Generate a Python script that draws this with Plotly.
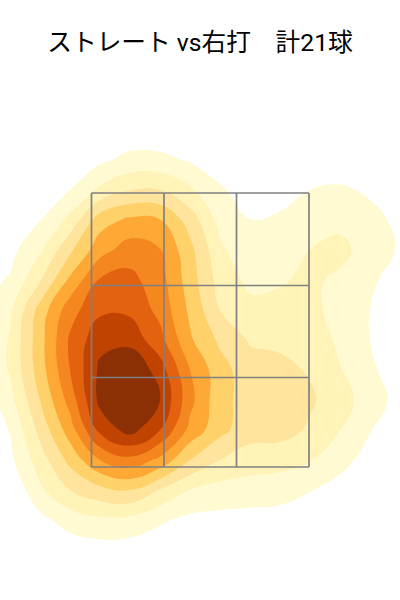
"""ストレート vs右打 のコース別密度 + ストライクゾーン9分割"""
import plotly.graph_objects as go

# 密度の等高線レベルを画像から読み取った格子 (値 k は k 番目の境界)
grid_x = [-20, 10, 40, 70, 100, 130, 160, 190, 220, 250, 280, 310, 340, 370, 400, 430]
grid_y = [130, 160, 190, 220, 250, 280, 310, 340, 370, 400, 430, 460, 490, 520, 550, 580]
density = [
    [0, 0, 0, 0, 0.1, 0.3, 0.3, 0.2, 0.1, 0, 0, 0.1, 0.1, 0.1, 0, 0],
    [0, 0, 0, 0.4, 0.8, 1.3, 1.25, 0.9, 0.4, 0.2, 0.2, 0.5, 0.55, 0.45, 0.1, 0],
    [0, 0, 0.4, 1.0, 2.2, 2.95, 3.0, 2.15, 1.15, 0.5, 0.75, 1.0, 1.1, 0.9, 0.3, 0],
    [0, 0.2, 0.95, 2.3, 4.55, 5.2, 5.05, 3.55, 1.65, 1.02, 1.1, 1.4, 1.7, 1.2, 0.85, 0],
    [0, 0.7, 1.85, 3.8, 5.6, 6.5, 6.05, 4.3, 2.2, 1.3, 1.5, 2.0, 2.3, 1.5, 0.9, 0],
    [0.6, 1.1, 2.9, 5.2, 7.1, 7.3, 6.4, 4.5, 2.6, 1.75, 1.9, 2.2, 1.8, 1.2, 0.5, 0],
    [0.9, 1.8, 4.4, 6.6, 7.8, 7.8, 6.7, 4.8, 3.0, 2.3, 2.3, 2.35, 1.55, 1.0, 0.3, 0],
    [0.8, 2.1, 4.6, 7.15, 8.7, 8.65, 7.35, 5.15, 3.8, 2.9, 2.8, 2.6, 1.8, 1.0, 0.3, 0],
    [0.85, 2.1, 4.5, 7.0, 9.2, 10.0, 8.5, 6.0, 4.4, 3.4, 3.25, 2.9, 2.05, 1.2, 0.4, 0],
    [0.3, 1.65, 4.0, 6.4, 9.3, 10.2, 9.0, 6.3, 4.3, 3.6, 3.5, 3.15, 2.4, 1.55, 0.6, 0],
    [0, 1.05, 3.3, 5.5, 8.3, 9.4, 8.0, 5.7, 4.3, 3.4, 3.4, 2.85, 2.0, 1.05, 0.3, 0],
    [0, 0.75, 2.5, 4.3, 6.0, 6.7, 5.75, 4.0, 3.0, 2.55, 2.4, 2.05, 1.35, 0.6, 0.1, 0],
    [0, 0.1, 1.8, 3.0, 3.7, 4.0, 2.95, 2.0, 1.6, 1.5, 1.4, 1.05, 0.6, 0.2, 0, 0],
    [0, 0, 0.7, 1.45, 1.8, 1.7, 1.15, 0.75, 0.7, 0.65, 0.6, 0.3, 0.1, 0, 0, 0],
    [0, 0, 0.1, 0.4, 0.55, 0.5, 0.35, 0.25, 0.2, 0.15, 0.1, 0, 0, 0, 0, 0],
    [0, 0, 0, 0, 0, 0, 0, 0, 0, 0, 0, 0, 0, 0, 0, 0],
]

# ストライクゾーンの区切り
zone_x = [91.5, 164, 236.5, 309]
zone_y = [193, 285.5, 377.5, 467]

band_colors = ["#ffffff", "#fffad2", "#fff3b7", "#fee49c", "#fed16b",
               "#fea936", "#f58720", "#e2620f", "#c04302", "#8b3004"]
colorscale = []
for i, c in enumerate(band_colors):
    colorscale += [[i / 10, c], [(i + 1) / 10, c]]

fig = go.Figure()
fig.add_contour(x=grid_x, y=grid_y, z=density, zmin=0, zmax=10,
                colorscale=colorscale, showscale=False, hoverinfo="skip",
                contours=dict(start=1, end=9, size=1, coloring="fill"),
                line=dict(width=0, smoothing=1.3))

for x in zone_x:
    fig.add_scatter(x=[x, x], y=[zone_y[0], zone_y[-1]], mode="lines",
                    line=dict(color="#808080", width=1.7), showlegend=False)
for y in zone_y:
    fig.add_scatter(x=[zone_x[0], zone_x[-1]], y=[y, y], mode="lines",
                    line=dict(color="#808080", width=1.7), showlegend=False)

fig.update_layout(
    width=400, height=600, margin=dict(l=0, r=0, t=0, b=0),
    template=None, paper_bgcolor="white", plot_bgcolor="white", showlegend=False,
    font=dict(family="Roboto, Noto Sans CJK JP, sans-serif", color="black"),
    title=dict(text="ストレート vs右打　計21球", x=0.5, y=0.93, xanchor="center",
               yanchor="middle", font=dict(size=24.7)),
    xaxis=dict(range=[0, 400], visible=False),
    yaxis=dict(range=[600, 0], visible=False),
)
fig.write_html("out.html", config=dict(displayModeBar=False),
               post_script="document.body.style.margin = '0';")
